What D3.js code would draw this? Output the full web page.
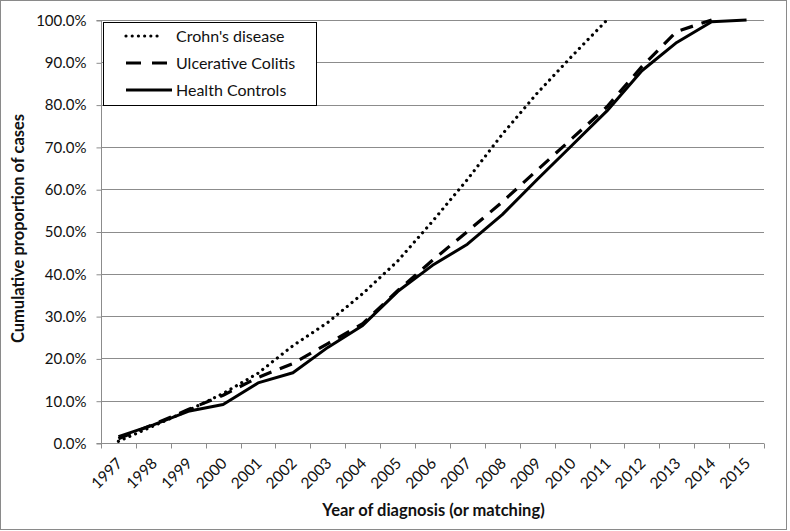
<!DOCTYPE html>
<html>
<head>
<meta charset="utf-8">
<script src="https://cdn.jsdelivr.net/npm/d3@7"></script>
<style>
  html, body { margin: 0; padding: 0; background: #fff; }
  svg { display: block; }
  text { font-family: Lato, "Liberation Sans", sans-serif; fill: #111; }
</style>
</head>
<body>
<svg id="chart" width="790" height="531"></svg>
<script>
const years = ["1997","1998","1999","2000","2001","2002","2003","2004","2005","2006","2007","2008","2009","2010","2011","2012","2013","2014","2015"];
const crohns = [0.4, 4.0, 7.7, 11.7, 16.5, 23.0, 28.5, 35.3, 43.0, 52.4, 62.3, 73.0, 82.7, 91.5, 100];
const ulcerativeColitis = [1.0, 4.4, 7.9, 11.3, 15.5, 18.8, 23.5, 28.2, 36.0, 43.2, 50.0, 57.0, 64.5, 72.0, 79.5, 89.0, 97.3, 100];
const healthControls = [1.5, 4.3, 7.5, 9.1, 14.2, 16.6, 22.6, 27.8, 35.8, 42.0, 47.0, 54.0, 62.3, 70.4, 78.5, 88.0, 94.7, 99.6, 100];
const yTicks = [0, 10, 20, 30, 40, 50, 60, 70, 80, 90, 100];
const seriesNames = ["Crohn's disease", "Ulcerative Colitis", "Health Controls"];
const xTitle = "Year of diagnosis (or matching)";
const yTitle = "Cumulative proportion of cases";

const svg = d3.select("#chart");
const L = 101, R = 764, T = 20, B = 443;

const x = d3.scaleBand().domain(years).range([L, R]).padding(0);
const y = d3.scaleLinear().domain([0, 100]).range([B, T]);
const cx = yr => x(yr) + x.bandwidth() / 2;

// outer frame
svg.append("rect").attr("x", 0.5).attr("y", 0.5).attr("width", 786).attr("height", 529)
  .attr("fill", "#fff").attr("stroke", "#8a8a8a").attr("stroke-width", 1);

// gridlines
svg.append("g").selectAll("line").data(yTicks.filter(d => d > 0)).join("line")
  .attr("x1", L).attr("x2", R)
  .attr("y1", d => Math.round(y(d)) + 0.5).attr("y2", d => Math.round(y(d)) + 0.5)
  .attr("stroke", "#8c8c8c").attr("stroke-width", 1);

// y axis
const yAxis = d3.axisLeft(y).tickValues(yTicks).tickSize(5).tickPadding(10)
  .tickFormat(d => d.toFixed(1) + "%");
const gy = svg.append("g").attr("transform", `translate(${L + 0.5},0.5)`).call(yAxis);
gy.select(".domain").attr("stroke", "#8c8c8c").attr("d", `M-5,${B}H0V${T}H-5`);
gy.selectAll(".tick line").attr("stroke", "#8c8c8c");
gy.selectAll(".tick text").style("font-family", "Lato, sans-serif").style("font-size", "15px").attr("fill", "#111");

// x axis
const gx = svg.append("g").attr("transform", `translate(0,${B + 0.5})`);
gx.append("line").attr("x1", L).attr("x2", R).attr("y1", 0).attr("y2", 0).attr("stroke", "#8c8c8c");
const bounds = years.map(d => x(d)).concat([R]);
gx.selectAll("line.tk").data(bounds).join("line").attr("class", "tk")
  .attr("x1", d => Math.round(d) + 0.5).attr("x2", d => Math.round(d) + 0.5)
  .attr("y1", 0).attr("y2", 5).attr("stroke", "#8c8c8c");
gx.selectAll("text").data(years).join("text")
  .attr("transform", d => `translate(${cx(d) + 1},${17}) rotate(-45)`)
  .attr("text-anchor", "end").attr("dy", "0.35em")
  .style("font-size", "15.5px").text(d => d);

// lines
const mk = arr => arr.map((v, i) => [years[i], v]);
const line = d3.line().x(d => cx(d[0])).y(d => y(d[1]));
const styles = [
  { data: crohns, dash: "0.01,6.2", cap: "round", w: 3.2 },
  { data: ulcerativeColitis, dash: "13,9", cap: "butt", w: 3.2 },
  { data: healthControls, dash: null, cap: "butt", w: 3 }
];
styles.forEach(s => {
  svg.append("path").datum(mk(s.data)).attr("d", line)
    .attr("fill", "none").attr("stroke", "#000").attr("stroke-width", s.w)
    .attr("stroke-dasharray", s.dash).attr("stroke-linecap", s.cap).attr("stroke-linejoin", "round");
});

// legend
const lg = svg.append("g");
lg.append("rect").attr("x", 103.5).attr("y", 22.5).attr("width", 213).attr("height", 83)
  .attr("fill", "#fff").attr("stroke", "#000").attr("stroke-width", 1);
const legY = [36, 63, 90];
styles.forEach((s, i) => {
  lg.append("line").attr("x1", 126).attr("x2", s.dash ? (i === 0 ? 163 : 172) : 172)
    .attr("y1", legY[i]).attr("y2", legY[i])
    .attr("stroke", "#000").attr("stroke-width", s.w)
    .attr("stroke-dasharray", i === 1 ? "15,11" : s.dash).attr("stroke-linecap", s.cap);
  lg.append("text").attr("x", 176).attr("y", legY[i]).attr("dy", "0.35em")
    .style("font-size", "16px").text(seriesNames[i]);
});

// titles
svg.append("text").attr("x", (L + R) / 2 + 1).attr("y", 516)
  .attr("text-anchor", "middle").style("font-size", "16.5px").style("font-weight", "bold").text(xTitle);
svg.append("text").attr("transform", `translate(24,${(T + B) / 2 - 3}) rotate(-90)`)
  .attr("text-anchor", "middle").style("font-size", "16.5px").style("font-weight", "bold").text(yTitle);
</script>
</body>
</html>
